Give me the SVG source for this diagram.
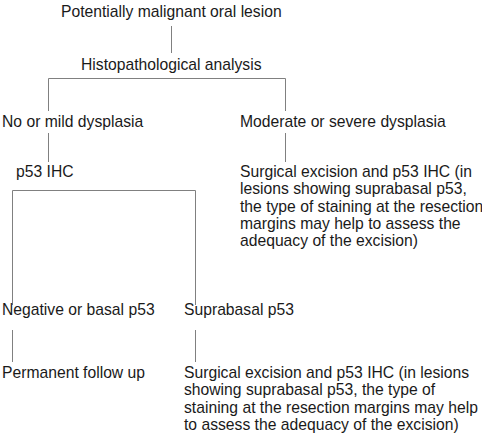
<svg xmlns="http://www.w3.org/2000/svg" width="482" height="442" viewBox="0 0 482 442">
<style>
text{font-family:"Liberation Sans",Arial,sans-serif;font-size:15.7px;fill:#1a1a1a}
.c{fill:none;stroke:#808080;stroke-width:1}
</style>
<rect width="482" height="442" fill="#fff"/>
<g id="connectors">
<path class="c" d="M171.5,26V53"/>
<path class="c" d="M48.5,111V78.5H285.5V111"/>
<path class="c" d="M48.5,133V162M285.5,133V162"/>
<path class="c" d="M12.5,305V190.5H195.5V305"/>
<path class="c" d="M12.5,330V362M195.5,330V362"/>
</g>
<g id="n1"><text x="61" y="17">Potentially malignant oral lesion</text></g>
<g id="n2"><text x="81" y="70">Histopathological analysis</text></g>
<g id="n3"><text x="2" y="127">No or mild dysplasia</text></g>
<g id="n4"><text x="240" y="127">Moderate or severe dysplasia</text></g>
<g id="n5"><text x="16" y="177">p53 IHC</text></g>
<g id="n6"><text x="240" y="177">Surgical excision and p53 IHC (in<tspan x="240" dy="17.3">lesions showing suprabasal p53,</tspan><tspan x="240" dy="17.3">the type of staining at the resection</tspan><tspan x="240" dy="17.3">margins may help to assess the</tspan><tspan x="240" dy="17.3">adequacy of the excision)</tspan></text></g>
<g id="n7"><text x="2" y="315">Negative or basal p53</text></g>
<g id="n8"><text x="184" y="315">Suprabasal p53</text></g>
<g id="n9"><text x="2" y="378">Permanent follow up</text></g>
<g id="n10"><text x="184" y="378">Surgical excision and p53 IHC (in lesions<tspan x="184" dy="17.3">showing suprabasal p53, the type of</tspan><tspan x="184" dy="17.3">staining at the resection margins may help</tspan><tspan x="184" dy="17.3">to assess the adequacy of the excision)</tspan></text></g>
</svg>
